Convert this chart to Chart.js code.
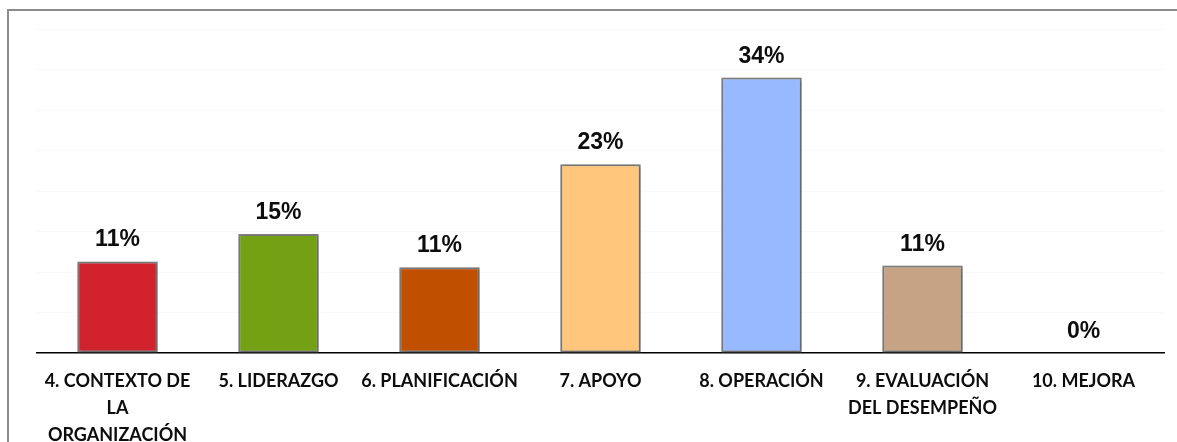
<!DOCTYPE html>
<html>
<head>
<meta charset="utf-8">
<script src="https://cdn.jsdelivr.net/npm/chart.js@4"></script>
<style>
  html, body { margin: 0; padding: 0; background: #fff; overflow: hidden; }
  #wrap { position: relative; width: 1177px; height: 442px; }
  #frame { position: absolute; left: 7px; top: 9px; width: 1300px; height: 500px;
           border-left: 2px solid #8c8c8c; border-top: 2px solid #8c8c8c; }
  #myChart { position: absolute; left: 0; top: 0; }
</style>
</head>
<body>
<div id="wrap">
  <div id="frame"></div>
  <canvas id="myChart" width="1177" height="442"></canvas>
</div>
<script>
const categories = [
  ['4. CONTEXTO DE', 'LA', 'ORGANIZACIÓN'],
  '5. LIDERAZGO',
  '6. PLANIFICACIÓN',
  '7. APOYO',
  '8. OPERACIÓN',
  ['9. EVALUACIÓN', 'DEL DESEMPEÑO'],
  '10. MEJORA'
];
const percents = [11.3, 14.7, 10.6, 23.3, 34.0, 10.8, 0];
const barColors = [
  'rgb(208, 33, 45)',
  'rgb(115, 161, 19)',
  'rgb(192, 79, 0)',
  'rgb(255, 198, 124)',
  'rgb(151, 185, 255)',
  'rgb(198, 163, 133)',
  'rgb(160, 160, 160)'
];

const ctx = document.getElementById('myChart');

// soft shadow behind the bars
const barShadow = {
  id: 'barShadow',
  beforeDatasetsDraw(chart) {
    const c = chart.ctx;
    c.save();
    c.shadowColor = 'rgba(0,0,0,0.3)';
    c.shadowBlur = 4;
    c.shadowOffsetX = 1;
    c.shadowOffsetY = 1;
  },
  afterDatasetsDraw(chart) {
    chart.ctx.restore();
  }
};

// percentage above each bar
const valueLabels = {
  id: 'valueLabels',
  afterDraw(chart) {
    const c = chart.ctx;
    const meta = chart.getDatasetMeta(0);
    c.save();
    c.font = 'bold 23px "Liberation Sans", Arial, sans-serif';
    c.fillStyle = '#0d0d0d';
    c.textAlign = 'center';
    c.textBaseline = 'alphabetic';
    meta.data.forEach((bar, i) => {
      c.fillText(Math.round(percents[i]) + '%', bar.x, bar.y - 15);
    });
    c.restore();
  }
};

new Chart(ctx, {
  type: 'bar',
  data: {
    labels: categories,
    datasets: [{
      data: percents,
      backgroundColor: barColors,
      borderColor: 'rgb(128, 128, 128)',
      borderWidth: 2,
      borderSkipped: false,
      barPercentage: 0.5,
      categoryPercentage: 1
    }]
  },
  options: {
    responsive: false,
    animation: false,
    layout: { padding: { left: 37, right: 13, top: 29, bottom: 0 } },
    plugins: { legend: { display: false }, tooltip: { enabled: false } },
    scales: {
      x: {
        grid: { display: false },
        border: { display: true, color: '#000', width: 1.5 },
        ticks: {
          color: '#0d0d0d',
          padding: 7,
          maxRotation: 0,
          autoSkip: false,
          font: { family: 'Lato', weight: 'bold', size: 18, lineHeight: 1.5 }
        },
        afterFit: s => { s.height = 89; }
      },
      y: {
        min: 0,
        max: 40,
        ticks: { display: false, stepSize: 5 },
        border: { display: false },
        grid: { color: 'rgba(0,0,0,0.025)', drawTicks: false },
        afterFit: s => { s.width = 0; }
      }
    }
  },
  plugins: [barShadow, valueLabels]
});
</script>
</body>
</html>
